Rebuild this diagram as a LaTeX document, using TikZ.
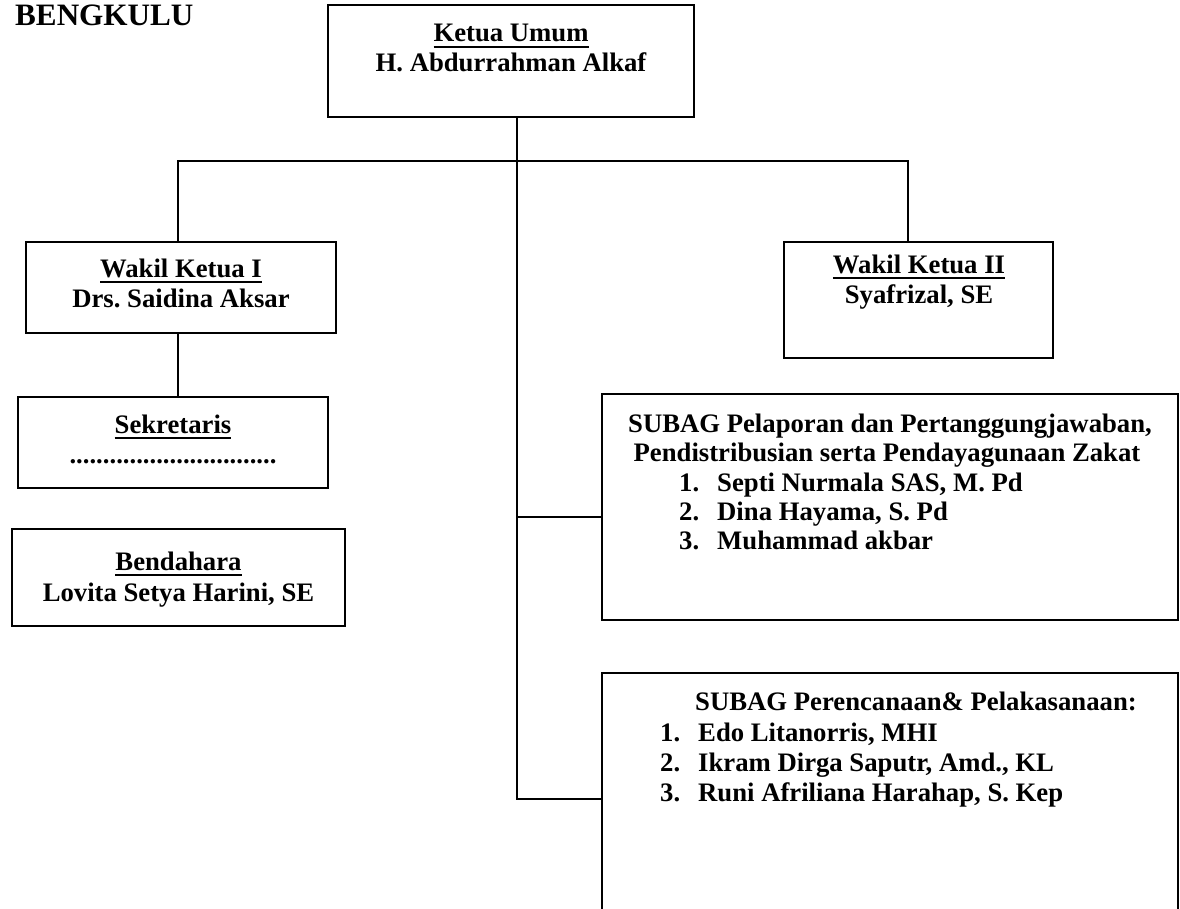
\documentclass[tikz,border=0pt]{standalone}
\usepackage{fontspec}
\setmainfont{Liberation Serif}
\frenchspacing
\newcommand\ulx[1]{\setbox0\hbox{#1}\rlap{\raisebox{-6pt}{\rule{\wd0}{2pt}}}\box0}
\begin{document}
\begin{tikzpicture}[x=1pt,y=-1pt,
  box/.style={draw, line width=1.8pt, rectangle, inner sep=0pt},
  conn/.style={line width=1.6pt},
  txt/.style={inner sep=0pt, font=\fontsize{26.7}{30}\selectfont\bfseries\frenchspacing},
  ctxt/.style={txt, anchor=base},
  ltxt/.style={txt, anchor=base west}]
\clip (0,0) rectangle (1180,909);
\useasboundingbox (0,0) rectangle (1180,909);
\fill[white] (0,0) rectangle (1180,909);

% title
\node[txt, anchor=base west, font=\fontsize{31.15}{34}\selectfont\bfseries] (title) at (15,26) {BENGKULU};

% boxes
\node[box, minimum width=366pt, minimum height=112pt] (ketua) at (511,61) {};
\node[box, minimum width=310pt, minimum height=91pt] (w1) at (181,287.5) {};
\node[box, minimum width=269pt, minimum height=116pt] (w2) at (918.5,300) {};
\node[box, minimum width=310pt, minimum height=91pt] (sek) at (173,442.5) {};
\node[box, minimum width=333pt, minimum height=97pt] (ben) at (178.5,577.5) {};
\node[box, minimum width=576pt, minimum height=226pt] (sub1) at (890,507) {};
\node[box, minimum width=576pt, minimum height=252pt] (sub2) at (890,799) {};

% texts
\node[ctxt] (k1) at (511,42) {\ulx{Ketua Umum}};
\node[ctxt] (k2) at (511,72) {H. Abdurrahman Alkaf};
\node[ctxt] (a1) at (181,277) {\ulx{Wakil Ketua I}};
\node[ctxt] (a2) at (181,307) {Drs. Saidina Aksar};
\node[ctxt] (b1) at (919,273) {\ulx{Wakil Ketua II}};
\node[ctxt] (b2) at (919,303) {Syafrizal, SE};
\node[ctxt] (s1t) at (173,433) {\ulx{Sekretaris}};
\node[ctxt] (s2t) at (173,463) {...............................};
\node[ctxt] (be1) at (178.5,570) {\ulx{Bendahara}};
\node[ctxt] (be2) at (178.5,601) {Lovita Setya Harini, SE};

\node[ctxt] (p1) at (890,432) {SUBAG Pelaporan dan Pertanggungjawaban,};
\node[ctxt] (p2) at (887,461) {Pendistribusian serta Pendayagunaan Zakat};
\node[ltxt] (p3n) at (679,491) {1.};
\node[ltxt] (p3) at (717,491) {Septi Nurmala SAS, M. Pd};
\node[ltxt] (p4n) at (679,520) {2.};
\node[ltxt] (p4) at (717,520) {Dina Hayama, S. Pd};
\node[ltxt] (p5n) at (679,549) {3.};
\node[ltxt] (p5) at (717,549) {Muhammad akbar};

\node[ltxt] (r1) at (695,710) {SUBAG Perencanaan\& Pelakasanaan:};
\node[ltxt] (r2n) at (660,741) {1.};
\node[ltxt] (r2) at (698,741) {Edo Litanorris, MHI};
\node[ltxt] (r3n) at (660,771) {2.};
\node[ltxt] (r3) at (698,771) {Ikram Dirga Saputr, Amd., KL};
\node[ltxt] (r4n) at (660,801) {3.};
\node[ltxt] (r4) at (698,801) {Runi Afriliana Harahap, S. Kep};

% connectors
\coordinate (j) at (517,161);
\coordinate (jl) at (178,161);
\coordinate (jr) at (908,161);
\coordinate (s1j) at (517,517);
\draw[conn] (ketua.south -| j) -- (j |- sub2.west) -- (sub2.west);
\draw[conn] (jl |- w1.north) -- (jl) -- (jr) -- (jr |- w2.north);
\draw[conn] (s1j) -- (s1j -| sub1.west);
\draw[conn] (w1.south -| jl) -- (sek.north -| jl);
\end{tikzpicture}
\end{document}
